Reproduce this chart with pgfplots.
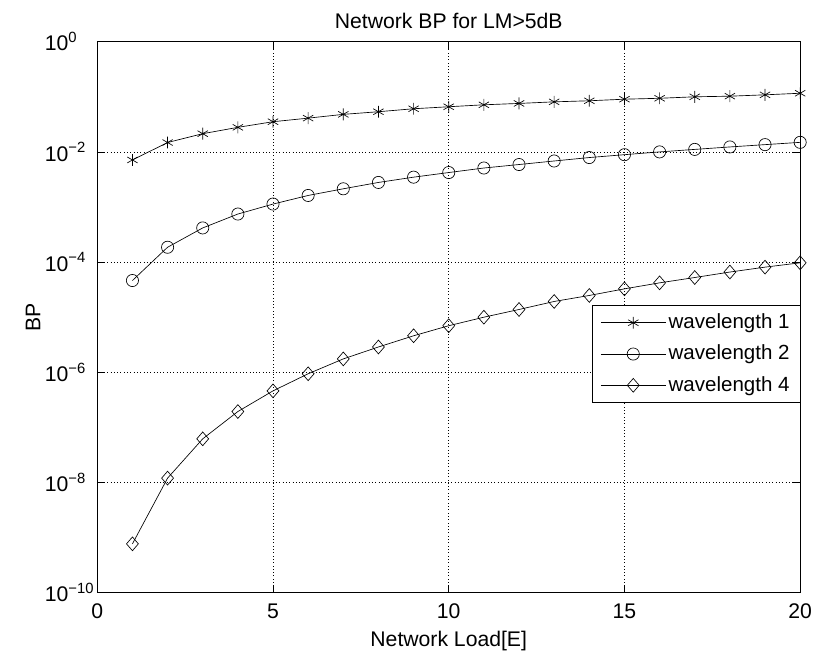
\documentclass[border=0pt]{standalone}
\usepackage{fontspec}
\setmainfont{Liberation Sans}
\usepackage{pgfplots}
\pgfplotsset{compat=1.18}

\begin{document}
\fontsize{16}{19}\selectfont
\begin{tikzpicture}
\begin{axis}[
    scale only axis,
    width=531pt, height=416.25pt,
    ymode=log,
    xmin=0, xmax=20,
    ymin=1e-10, ymax=1,
    xtick={0,5,10,15,20},
    ytick={1,1e-2,1e-4,1e-6,1e-8,1e-10},
    yticklabels={10\textsuperscript{0},10\textsuperscript{−2},10\textsuperscript{−4},10\textsuperscript{−6},10\textsuperscript{−8},10\textsuperscript{−10}},
    yticklabel style={anchor=west, inner xsep=0pt, xshift=-39.75pt},
    xticklabel style={yshift=-3pt},
    minor ytick={},
    /pgf/number format/assume math mode=true,
    tick align=inside,
    major tick length=6pt,
    tick style={black, line width=0.5pt},
    grid=major,
    grid style={black, line width=0.5pt, dotted},
    axis line style={line width=0.8pt},
    title={Network BP for LM>5dB},
    title style={yshift=-2pt},
    xlabel={Network Load[E]},
    ylabel={BP},
    xlabel style={yshift=2pt},
    ylabel style={yshift=-2pt},
    legend cell align=left,
    legend style={at={(1,0.5207)}, anchor=north east, draw=black, line width=0.6pt,
        fill=white, inner xsep=6pt, inner ysep=4pt, row sep=6pt, outer sep=0pt,
        font=\fontsize{15.5}{18}\selectfont},
    legend image code/.code={\draw[mark repeat=2,mark phase=2,#1] plot coordinates {(0pt,0pt) (24.5pt,0pt) (49pt,0pt)};},
]

\addplot[black, line width=0.5pt, mark=asterisk, mark size=4.5pt] coordinates {
(1,0.00714) (2,0.0148) (3,0.0214) (4,0.0279) (5,0.0353)
(6,0.0410) (7,0.0480) (8,0.0536) (9,0.0607) (10,0.0660)
(11,0.0716) (12,0.0758) (13,0.0810) (14,0.0847) (15,0.0905)
(16,0.0940) (17,0.1000) (18,0.1026) (19,0.1086) (20,0.1160)
};

\addplot[black, line width=0.5pt, mark=o, mark size=4.6pt] coordinates {
(1,4.63e-5) (2,1.86e-4) (3,4.17e-4) (4,7.45e-4) (5,1.13e-3)
(6,1.62e-3) (7,2.14e-3) (8,2.79e-3) (9,3.48e-3) (10,4.22e-3)
(11,5.10e-3) (12,5.90e-3) (13,6.84e-3) (14,7.90e-3) (15,8.90e-3)
(16,1.00e-2) (17,1.11e-2) (18,1.23e-2) (19,1.355e-2) (20,1.49e-2)
};

\addplot[black, line width=0.5pt, mark=diamond, mark size=5.2pt, mark options={xscale=1.15}] coordinates {
(1,7.7e-10) (2,1.2e-8) (3,6.2e-8) (4,1.94e-7) (5,4.6e-7)
(6,9.4e-7) (7,1.75e-6) (8,2.88e-6) (9,4.6e-6) (10,7.0e-6)
(11,1.0e-5) (12,1.38e-5) (13,1.93e-5) (14,2.48e-5) (15,3.27e-5)
(16,4.2e-5) (17,5.25e-5) (18,6.6e-5) (19,8.1e-5) (20,9.7e-5)
};

\legend{wavelength 1, wavelength 2, wavelength 4}
\end{axis}
\path[use as bounding box] ([xshift=-73.5pt,yshift=-46.5pt]current axis.south west) rectangle ([xshift=9.75pt,yshift=31.5pt]current axis.north east);
\end{tikzpicture}
\end{document}
